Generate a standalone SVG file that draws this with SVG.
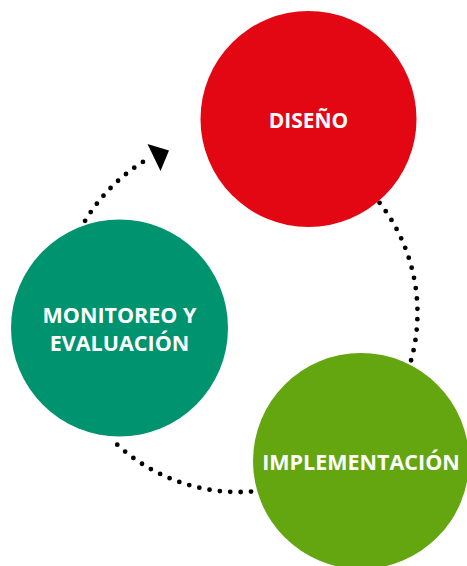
<svg xmlns="http://www.w3.org/2000/svg" width="467" height="566" viewBox="0 0 467 566">
<style>
.lbl{font-family:"Open Sans","DejaVu Sans",sans-serif;font-weight:700;fill:#fff;text-anchor:middle}
.dots{fill:none;stroke:#000;stroke-width:4.8;stroke-linecap:round;stroke-dasharray:0 10.4}
</style>
<rect width="467" height="566" fill="#fff"/>
<g id="connectors">
<path class="dots" d="M379.6,202.8 A179,179 0 0 1 410.1,363.8"/>
<path class="dots" d="M251,491.6 A179,179 0 0 1 114.2,441.8"/>
<path class="dots" d="M85.1,220.8 A179,179 0 0 1 147.7,159"/>
<polygon points="147.5,144 169,150.5 160.5,171" fill="#000"/>
</g>
<g id="diseno">
<circle cx="308.5" cy="119" r="108" fill="#E30613"/>
<text class="lbl" x="308.5" y="128" font-size="21">DISEÑO</text>
</g>
<g id="monitoreo">
<circle cx="119.5" cy="328" r="108.5" fill="#00936F"/>
<text class="lbl" x="119.5" y="323" font-size="21.5">MONITOREO Y</text>
<text class="lbl" x="119.5" y="351" font-size="21.5">EVALUACIÓN</text>
</g>
<g id="implementacion">
<circle cx="361" cy="461" r="108" fill="#63A60F"/>
<text class="lbl" x="361" y="470" font-size="21.5">IMPLEMENTACIÓN</text>
</g>
</svg>
